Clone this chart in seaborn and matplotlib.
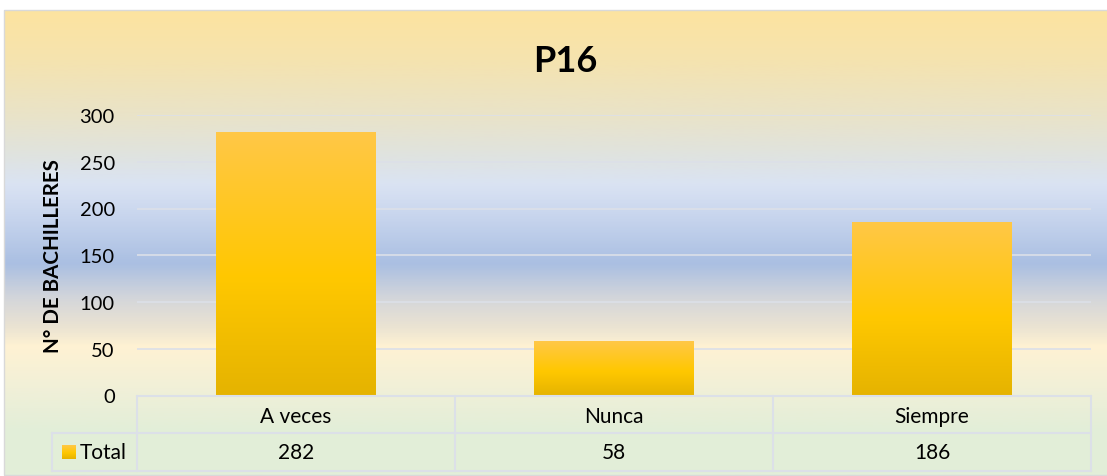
import numpy as np
import pandas as pd
import matplotlib
matplotlib.use("Agg")
import matplotlib.pyplot as plt
from matplotlib.colors import LinearSegmentedColormap
from matplotlib.transforms import blended_transform_factory
from matplotlib.patches import Rectangle
from matplotlib.lines import Line2D
import seaborn as sns

# ---- data ----
categories = ["A veces", "Nunca", "Siempre"]
totals = [282, 58, 186]
series_name = "Total"
title = "P16"
y_label = "N° DE BACHILLERES"
y_ticks = [0, 50, 100, 150, 200, 250, 300]

sns.set_theme(style="white")
plt.rcParams["font.family"] = ["Lato", "DejaVu Sans"]

W, H = 1107, 477
fig = plt.figure(figsize=(W / 100, H / 100), dpi=100)
fig.patch.set_facecolor("white")


def fx(px):
    return px / W


def fy(py):
    return 1 - py / H


# ---- chart area background (vertical multi-stop gradient) ----
bg_top, bg_bot, bg_left, bg_right = 11, 476, 4, 1112
bg = fig.add_axes([fx(bg_left), fy(bg_bot), fx(bg_right - bg_left), (bg_bot - bg_top) / H], zorder=0)
bg_stops = [
    (11, "#FDE4A0"), (60, "#F5E3AF"), (117, "#E9E3C9"), (150, "#E1E3DC"),
    (185, "#DAE3F3"), (215, "#C9D6EE"), (265, "#AABFE2"), (300, "#D4D6DA"),
    (330, "#ECE4D2"), (348, "#FFF2D3"), (390, "#F1F0D8"), (430, "#E3EED8"),
    (476, "#E2EFD9"),
]
bg_cmap = LinearSegmentedColormap.from_list(
    "chart_bg", [((y - bg_top) / (bg_bot - bg_top), c) for y, c in bg_stops])
bg.imshow(np.linspace(0, 1, 600).reshape(-1, 1), cmap=bg_cmap, aspect="auto")
bg.axis("off")
fig.patches.append(Rectangle((fx(bg_left), fy(bg_bot)), fx(bg_right - bg_left), (bg_bot - bg_top) / H,
                             transform=fig.transFigure, fill=False, edgecolor="#D9D9D9", lw=1.0, zorder=1))

# ---- plot area ----
ax_l, ax_r, ax_t, ax_b = 137, 1091, 116, 396.5
ax = fig.add_axes([fx(ax_l), fy(ax_b), fx(ax_r - ax_l), (ax_b - ax_t) / H], zorder=2)
ax.patch.set_alpha(0)

df = pd.DataFrame({"category": categories, "value": totals})
sns.barplot(data=df, x="category", y="value", ax=ax, width=0.503, color="#FFC800", zorder=3)

bar_cmap = LinearSegmentedColormap.from_list(
    "bar", [(0.0, "#FFC747"), (0.55, "#FFC800"), (1.0, "#E5B300")])
bar_grad = np.linspace(0, 1, 256).reshape(-1, 1)
for p in ax.patches:
    x0, w, h = p.get_x(), p.get_width(), p.get_height()
    p.set_visible(False)
    ax.imshow(bar_grad, cmap=bar_cmap, extent=[x0, x0 + w, 0, h], aspect="auto", zorder=3)

ax.set_xlim(-0.5, len(categories) - 0.5)
ax.set_ylim(0, 300)
ax.set_aspect("auto")
ax.set_yticks(y_ticks)
ax.yaxis.grid(True, color="#DCE0E8", lw=1.2)
ax.xaxis.grid(False)
ax.set_axisbelow(True)
for s in ax.spines.values():
    s.set_visible(False)
ax.tick_params(axis="y", length=0, pad=16, labelsize=14.5, labelcolor="black")
ax.tick_params(axis="x", bottom=False, labelbottom=False)
ax.set_xlabel("")
ax.set_ylabel(y_label, fontsize=14.8, fontweight="bold", color="black")
ax.yaxis.set_label_coords(-0.0776, 0.5)

# ---- data table under the plot ----
def xa(px):
    return (px - ax_l) / (ax_r - ax_l)


def ya(py):
    return (ax_b - py) / (ax_b - ax_t)


grid_col = "#DCE0E8"
line_kw = dict(color=grid_col, lw=1.5, clip_on=False, transform=ax.transAxes, zorder=4)
row0, row1, row2 = 397, 434, 472
ax.add_line(Line2D([0, 1], [ya(row0), ya(row0)], **line_kw))
ax.add_line(Line2D([xa(52), 1], [ya(row1), ya(row1)], **line_kw))
ax.add_line(Line2D([xa(52), 1], [ya(row2), ya(row2)], **line_kw))
ax.add_line(Line2D([xa(52), xa(52)], [ya(row1), ya(row2)], **line_kw))
ax.add_line(Line2D([0, 0], [ya(row0), ya(row2)], **line_kw))
ax.add_line(Line2D([1, 1], [ya(row0), ya(row2)], **line_kw))
mixed = blended_transform_factory(ax.transData, ax.transAxes)
for i in range(len(categories) - 1):
    ax.add_line(Line2D([i + 0.5, i + 0.5], [ya(row0), ya(row2)], color=grid_col, lw=1.5,
                       clip_on=False, transform=mixed, zorder=4))

for i, (cat, val) in enumerate(zip(categories, totals)):
    ax.text(i, ya(423), cat, transform=mixed, ha="center", va="baseline",
            fontsize=15, color="black", clip_on=False)
    ax.text(i, ya(459), f"{val}", transform=mixed, ha="center", va="baseline",
            fontsize=15, color="black", clip_on=False)

# legend key in the table header cell, with the same gradient as the bars
key = ax.inset_axes([xa(62), ya(460), xa(76) - xa(62), ya(446) - ya(460)], zorder=4)
key.imshow(bar_grad, cmap=bar_cmap, aspect="auto")
key.axis("off")
ax.text(xa(80), ya(459), series_name, transform=ax.transAxes, ha="left", va="baseline",
        fontsize=15, color="black", clip_on=False)

# ---- title ----
fig.text(fx(565), fy(72), title, ha="center", va="baseline", fontsize=26,
         fontweight="bold", color="black", zorder=5)

fig.savefig("out.png", dpi=100)
